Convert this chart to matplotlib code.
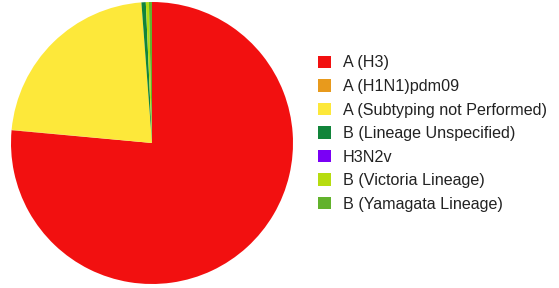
import matplotlib.pyplot as plt
from matplotlib.patches import Patch

labels = ["A (H3)", "A (H1N1)pdm09", "A (Subtyping not Performed)",
          "B (Lineage Unspecified)", "H3N2v", "B (Victoria Lineage)",
          "B (Yamagata Lineage)"]
values = [76.45, 0.05, 22.3, 0.5, 0.0, 0.35, 0.35]
colors = ["#f21010", "#e89a1c", "#fde83a", "#11843a", "#7a00f5", "#b6dc10", "#62b22c"]

fig = plt.figure(figsize=(5.59, 2.88), dpi=100)
ax = fig.add_axes([11/559, 4/288, 282/559, 282/288])
ax.pie(values, colors=colors, startangle=90, counterclock=False,
       wedgeprops=dict(linewidth=0))
ax.set_xlim(-1, 1)
ax.set_ylim(-1, 1)
ax.set_aspect('equal')
ax.axis('off')

handles = [Patch(facecolor=c, edgecolor='none') for c in colors]
fig.legend(handles, labels, loc='upper left',
           bbox_to_anchor=(318/559, 1 - 55.5/288),
           frameon=False, prop={'family': 'Liberation Sans', 'size': 11.6},
           handlelength=0.82, handleheight=0.82, handletextpad=0.72,
           labelspacing=0.53, borderpad=0, borderaxespad=0,
           labelcolor='#222222')

fig.savefig("out.png", dpi=100)
